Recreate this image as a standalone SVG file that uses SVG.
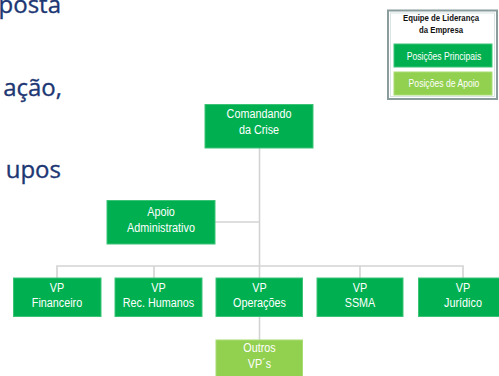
<svg xmlns="http://www.w3.org/2000/svg" width="499" height="376" viewBox="0 0 499 376">
  <style>
    .body { font-family: "Open Sans", "Noto Sans", sans-serif; font-size: 24px; fill: #1D3773; stroke: #1D3773; stroke-width: 0.35; text-anchor: end; }
    .main { fill: #00B050; stroke: #3CC476; stroke-width: 1; }
    .support { fill: #92D050; stroke: #A8DC74; stroke-width: 1; }
    .lbl { font-family: "Liberation Sans", Arial, sans-serif; font-size: 13.5px; fill: #FFFFFF; text-anchor: middle; }
    .leg { font-family: "Liberation Sans", Arial, sans-serif; font-size: 10.5px; fill: #FFFFFF; text-anchor: middle; }
    .legtitle { font-family: "Liberation Sans", Arial, sans-serif; font-size: 9.5px; font-weight: bold; fill: #111111; text-anchor: middle; }
    .wire { stroke: #D3D3D3; stroke-width: 1.6; fill: none; }
  </style>
  <rect width="499" height="376" fill="#FFFFFF"/>

  <!-- slide body text, clipped at the left edge -->
  <g id="body-text">
    <text class="body" x="61" y="13">posta</text>
    <text class="body" x="62" y="96">ação,</text>
    <text class="body" x="61" y="178">upos</text>
  </g>

  <!-- legend -->
  <g id="legend">
    <rect x="388" y="10.5" width="109" height="88.5" fill="#FFFFFF" stroke="#8A9C9C" stroke-width="2"/>
    <rect x="390.5" y="13" width="104" height="83.5" fill="none" stroke="#D8E4E4" stroke-width="1"/>
    <text class="legtitle" transform="translate(441 21) scale(0.82 1)">Equipe de Liderança</text>
    <text class="legtitle" transform="translate(441 33) scale(0.82 1)">da Empresa</text>
    <g id="legend-main">
      <rect class="main" x="394" y="44" width="98" height="23"/>
      <text class="leg" transform="translate(444 59.5) scale(0.82 1)">Posições Principais</text>
    </g>
    <g id="legend-support">
      <rect class="support" x="394" y="72" width="98" height="23"/>
      <text class="leg" transform="translate(444 87) scale(0.82 1)">Posições de Apoio</text>
    </g>
  </g>

  <!-- connectors -->
  <g id="connectors">
    <path class="wire" d="M259.5 148 V278"/>
    <path class="wire" d="M215 222 H259.5"/>
    <path class="wire" d="M57 278 V266 H463 V278"/>
    <path class="wire" d="M154 266 V278"/>
    <path class="wire" d="M360 266 V278"/>
    <path class="wire" d="M259.5 317 V340"/>
  </g>

  <g id="comandando">
    <rect class="main" x="205" y="104.5" width="108" height="43.5"/>
    <text class="lbl" transform="translate(259 118) scale(0.8 1)">Comandando</text>
    <text class="lbl" transform="translate(259 134) scale(0.8 1)">da Crise</text>
  </g>

  <g id="apoio-administrativo">
    <rect class="main" x="107" y="200.5" width="108" height="43.5"/>
    <text class="lbl" transform="translate(161 215.5) scale(0.8 1)">Apoio</text>
    <text class="lbl" transform="translate(161 231.5) scale(0.8 1)">Administrativo</text>
  </g>

  <g id="vp-financeiro">
    <rect class="main" x="13.5" y="278" width="87.5" height="38.5"/>
    <text class="lbl" transform="translate(57 291.5) scale(0.8 1)">VP</text>
    <text class="lbl" transform="translate(57 306.5) scale(0.8 1)">Financeiro</text>
  </g>

  <g id="vp-rec-humanos">
    <rect class="main" x="115" y="278" width="87" height="38.5"/>
    <text class="lbl" transform="translate(158.5 291.5) scale(0.8 1)">VP</text>
    <text class="lbl" transform="translate(158.5 306.5) scale(0.8 1)">Rec. Humanos</text>
  </g>

  <g id="vp-operacoes">
    <rect class="main" x="216" y="278" width="86.5" height="38.5"/>
    <text class="lbl" transform="translate(259.5 291.5) scale(0.8 1)">VP</text>
    <text class="lbl" transform="translate(259.5 306.5) scale(0.8 1)">Operações</text>
  </g>

  <g id="vp-ssma">
    <rect class="main" x="317" y="278" width="86" height="38.5"/>
    <text class="lbl" transform="translate(360 291.5) scale(0.8 1)">VP</text>
    <text class="lbl" transform="translate(360 306.5) scale(0.8 1)">SSMA</text>
  </g>

  <g id="vp-juridico">
    <rect class="main" x="418.5" y="278" width="88" height="38.5"/>
    <text class="lbl" transform="translate(463 291.5) scale(0.8 1)">VP</text>
    <text class="lbl" transform="translate(463 306.5) scale(0.8 1)">Jurídico</text>
  </g>

  <g id="outros-vps">
    <rect class="support" x="216" y="340" width="86.5" height="40"/>
    <text class="lbl" transform="translate(259.5 352) scale(0.8 1)">Outros</text>
    <text class="lbl" transform="translate(259.5 368) scale(0.8 1)">VP´s</text>
  </g>
</svg>
